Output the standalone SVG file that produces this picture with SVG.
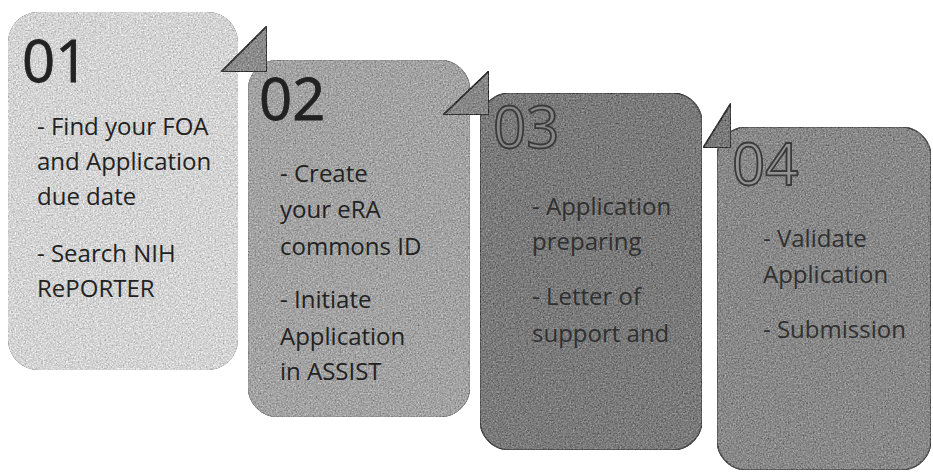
<svg xmlns="http://www.w3.org/2000/svg" width="933" height="476" viewBox="0 0 933 476">
  <style>
    .body { font-family: "Open Sans", "Noto Sans", "Liberation Sans", sans-serif; font-size: 24px; fill: #222222; }
    .num { font-family: "Open Sans", "Noto Sans", "Liberation Sans", sans-serif; font-size: 58px; }
    .num-solid { fill: #222222; stroke: #222222; stroke-width: 0.8; }
    .num-outline { stroke: #3a3a3a; stroke-width: 1.8; }
    .dim { fill: #303030; }
    .fold { stroke: #333333; stroke-width: 1.8; stroke-linejoin: miter; }
  </style>
  <defs>
    <filter id="grain" x="0" y="0" width="100%" height="100%" color-interpolation-filters="sRGB">
      <feTurbulence type="fractalNoise" baseFrequency="0.6" numOctaves="2" seed="7" result="noise"/>
      <feColorMatrix in="noise" type="matrix" values="0.33 0.33 0.33 0 0  0.33 0.33 0.33 0 0  0.33 0.33 0.33 0 0  0 0 0 0 1" result="gray"/>
      <feComposite in="SourceGraphic" in2="gray" operator="arithmetic" k1="0" k2="1" k3="0.75" k4="-0.375" result="mix"/>
      <feComposite in="mix" in2="SourceGraphic" operator="in"/>
    </filter>
  </defs>

  <rect width="933" height="476" fill="#ffffff"/>

  <g id="step-01">
    <rect x="8" y="12" width="230" height="358" rx="30" fill="#d4d4d4" filter="url(#grain)"/>
    <text class="num num-solid" x="22" y="82">01</text>
    <text class="body">
      <tspan x="37" y="135">- Find your FOA</tspan>
      <tspan x="37" y="170">and Application</tspan>
      <tspan x="37" y="205">due date</tspan>
      <tspan x="37" y="262">- Search NIH</tspan>
      <tspan x="37" y="297">RePORTER</tspan>
    </text>
  </g>

  <g id="step-02">
    <rect x="248" y="60" width="222" height="357" rx="30" fill="#a3a3a3" stroke="#858585" stroke-width="1" filter="url(#grain)"/>
    <text class="num num-solid" x="259" y="120">02</text>
    <text class="body">
      <tspan x="280" y="182">- Create</tspan>
      <tspan x="280" y="218">your eRA</tspan>
      <tspan x="280" y="255">commons ID</tspan>
      <tspan x="280" y="308">- Initiate</tspan>
      <tspan x="280" y="345">Application</tspan>
      <tspan x="280" y="380">in ASSIST</tspan>
    </text>
  </g>

  <g id="step-03">
    <rect x="480" y="93" width="222" height="357" rx="30" fill="#7b7b7b" stroke="#4a4a4a" stroke-width="1.5" filter="url(#grain)"/>
    <text class="num num-outline" x="493" y="148" fill="#868686">03</text>
    <text class="body dim">
      <tspan x="532" y="215">- Application</tspan>
      <tspan x="532" y="250">preparing</tspan>
      <tspan x="532" y="305">- Letter of</tspan>
      <tspan x="532" y="342">support and</tspan>
    </text>
  </g>

  <g id="step-04">
    <rect x="717" y="127" width="214" height="343" rx="30" fill="#898989" stroke="#505050" stroke-width="1.5" filter="url(#grain)"/>
    <text class="num num-outline" x="732" y="185" fill="#939393">04</text>
    <text class="body dim">
      <tspan x="763" y="247">- Validate</tspan>
      <tspan x="763" y="283">Application</tspan>
      <tspan x="763" y="338">- Submission</tspan>
    </text>
  </g>

  <g id="connectors">
    <path class="fold" d="M221,72 L267,26 L267,72 Z" fill="#8c8c8c" filter="url(#grain)"/>
    <path class="fold" d="M443,115 L489,71 L489,115 Z" fill="#888888" filter="url(#grain)"/>
    <path class="fold" d="M703,148 L731,103 L731,148 Z" fill="#7a7a7a" filter="url(#grain)"/>
  </g>
</svg>
